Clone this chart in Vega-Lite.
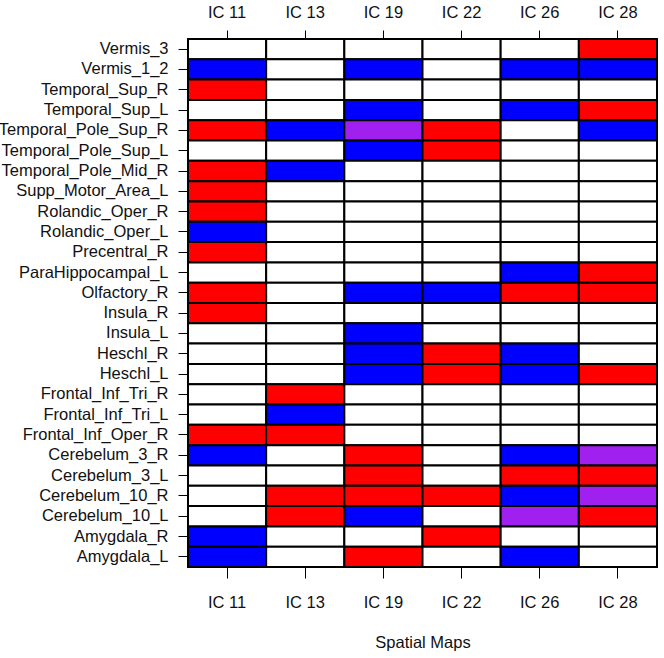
{
  "$schema": "https://vega.github.io/schema/vega-lite/v6.json",
  "autosize": {"type": "none"},
  "padding": {"left": 188, "top": 39, "right": 7, "bottom": 91},
  "width": 469,
  "height": 528,
  "background": "white",
  "config": {
    "view": {"stroke": null},
    "font": "Liberation Sans",
    "axis": {"labelFont": "Liberation Sans", "titleFont": "Liberation Sans", "labelColor": "#111111", "titleColor": "#111111", "tickColor": "#000000", "domain": false, "grid": false, "labelFontSize": 16.5, "titleFontSize": 16.5, "titleFontWeight": "normal"}
  },
  "data": {"values": [
    {"region":"Vermis_3","ic":"IC 11","v":"none"},{"region":"Vermis_3","ic":"IC 13","v":"none"},{"region":"Vermis_3","ic":"IC 19","v":"none"},{"region":"Vermis_3","ic":"IC 22","v":"none"},{"region":"Vermis_3","ic":"IC 26","v":"none"},{"region":"Vermis_3","ic":"IC 28","v":"pos"},
    {"region":"Vermis_1_2","ic":"IC 11","v":"neg"},{"region":"Vermis_1_2","ic":"IC 13","v":"none"},{"region":"Vermis_1_2","ic":"IC 19","v":"neg"},{"region":"Vermis_1_2","ic":"IC 22","v":"none"},{"region":"Vermis_1_2","ic":"IC 26","v":"neg"},{"region":"Vermis_1_2","ic":"IC 28","v":"neg"},
    {"region":"Temporal_Sup_R","ic":"IC 11","v":"pos"},{"region":"Temporal_Sup_R","ic":"IC 13","v":"none"},{"region":"Temporal_Sup_R","ic":"IC 19","v":"none"},{"region":"Temporal_Sup_R","ic":"IC 22","v":"none"},{"region":"Temporal_Sup_R","ic":"IC 26","v":"none"},{"region":"Temporal_Sup_R","ic":"IC 28","v":"none"},
    {"region":"Temporal_Sup_L","ic":"IC 11","v":"none"},{"region":"Temporal_Sup_L","ic":"IC 13","v":"none"},{"region":"Temporal_Sup_L","ic":"IC 19","v":"neg"},{"region":"Temporal_Sup_L","ic":"IC 22","v":"none"},{"region":"Temporal_Sup_L","ic":"IC 26","v":"neg"},{"region":"Temporal_Sup_L","ic":"IC 28","v":"pos"},
    {"region":"Temporal_Pole_Sup_R","ic":"IC 11","v":"pos"},{"region":"Temporal_Pole_Sup_R","ic":"IC 13","v":"neg"},{"region":"Temporal_Pole_Sup_R","ic":"IC 19","v":"both"},{"region":"Temporal_Pole_Sup_R","ic":"IC 22","v":"pos"},{"region":"Temporal_Pole_Sup_R","ic":"IC 26","v":"none"},{"region":"Temporal_Pole_Sup_R","ic":"IC 28","v":"neg"},
    {"region":"Temporal_Pole_Sup_L","ic":"IC 11","v":"none"},{"region":"Temporal_Pole_Sup_L","ic":"IC 13","v":"none"},{"region":"Temporal_Pole_Sup_L","ic":"IC 19","v":"neg"},{"region":"Temporal_Pole_Sup_L","ic":"IC 22","v":"pos"},{"region":"Temporal_Pole_Sup_L","ic":"IC 26","v":"none"},{"region":"Temporal_Pole_Sup_L","ic":"IC 28","v":"none"},
    {"region":"Temporal_Pole_Mid_R","ic":"IC 11","v":"pos"},{"region":"Temporal_Pole_Mid_R","ic":"IC 13","v":"neg"},{"region":"Temporal_Pole_Mid_R","ic":"IC 19","v":"none"},{"region":"Temporal_Pole_Mid_R","ic":"IC 22","v":"none"},{"region":"Temporal_Pole_Mid_R","ic":"IC 26","v":"none"},{"region":"Temporal_Pole_Mid_R","ic":"IC 28","v":"none"},
    {"region":"Supp_Motor_Area_L","ic":"IC 11","v":"pos"},{"region":"Supp_Motor_Area_L","ic":"IC 13","v":"none"},{"region":"Supp_Motor_Area_L","ic":"IC 19","v":"none"},{"region":"Supp_Motor_Area_L","ic":"IC 22","v":"none"},{"region":"Supp_Motor_Area_L","ic":"IC 26","v":"none"},{"region":"Supp_Motor_Area_L","ic":"IC 28","v":"none"},
    {"region":"Rolandic_Oper_R","ic":"IC 11","v":"pos"},{"region":"Rolandic_Oper_R","ic":"IC 13","v":"none"},{"region":"Rolandic_Oper_R","ic":"IC 19","v":"none"},{"region":"Rolandic_Oper_R","ic":"IC 22","v":"none"},{"region":"Rolandic_Oper_R","ic":"IC 26","v":"none"},{"region":"Rolandic_Oper_R","ic":"IC 28","v":"none"},
    {"region":"Rolandic_Oper_L","ic":"IC 11","v":"neg"},{"region":"Rolandic_Oper_L","ic":"IC 13","v":"none"},{"region":"Rolandic_Oper_L","ic":"IC 19","v":"none"},{"region":"Rolandic_Oper_L","ic":"IC 22","v":"none"},{"region":"Rolandic_Oper_L","ic":"IC 26","v":"none"},{"region":"Rolandic_Oper_L","ic":"IC 28","v":"none"},
    {"region":"Precentral_R","ic":"IC 11","v":"pos"},{"region":"Precentral_R","ic":"IC 13","v":"none"},{"region":"Precentral_R","ic":"IC 19","v":"none"},{"region":"Precentral_R","ic":"IC 22","v":"none"},{"region":"Precentral_R","ic":"IC 26","v":"none"},{"region":"Precentral_R","ic":"IC 28","v":"none"},
    {"region":"ParaHippocampal_L","ic":"IC 11","v":"none"},{"region":"ParaHippocampal_L","ic":"IC 13","v":"none"},{"region":"ParaHippocampal_L","ic":"IC 19","v":"none"},{"region":"ParaHippocampal_L","ic":"IC 22","v":"none"},{"region":"ParaHippocampal_L","ic":"IC 26","v":"neg"},{"region":"ParaHippocampal_L","ic":"IC 28","v":"pos"},
    {"region":"Olfactory_R","ic":"IC 11","v":"pos"},{"region":"Olfactory_R","ic":"IC 13","v":"none"},{"region":"Olfactory_R","ic":"IC 19","v":"neg"},{"region":"Olfactory_R","ic":"IC 22","v":"neg"},{"region":"Olfactory_R","ic":"IC 26","v":"pos"},{"region":"Olfactory_R","ic":"IC 28","v":"pos"},
    {"region":"Insula_R","ic":"IC 11","v":"pos"},{"region":"Insula_R","ic":"IC 13","v":"none"},{"region":"Insula_R","ic":"IC 19","v":"none"},{"region":"Insula_R","ic":"IC 22","v":"none"},{"region":"Insula_R","ic":"IC 26","v":"none"},{"region":"Insula_R","ic":"IC 28","v":"none"},
    {"region":"Insula_L","ic":"IC 11","v":"none"},{"region":"Insula_L","ic":"IC 13","v":"none"},{"region":"Insula_L","ic":"IC 19","v":"neg"},{"region":"Insula_L","ic":"IC 22","v":"none"},{"region":"Insula_L","ic":"IC 26","v":"none"},{"region":"Insula_L","ic":"IC 28","v":"none"},
    {"region":"Heschl_R","ic":"IC 11","v":"none"},{"region":"Heschl_R","ic":"IC 13","v":"none"},{"region":"Heschl_R","ic":"IC 19","v":"neg"},{"region":"Heschl_R","ic":"IC 22","v":"pos"},{"region":"Heschl_R","ic":"IC 26","v":"neg"},{"region":"Heschl_R","ic":"IC 28","v":"none"},
    {"region":"Heschl_L","ic":"IC 11","v":"none"},{"region":"Heschl_L","ic":"IC 13","v":"none"},{"region":"Heschl_L","ic":"IC 19","v":"neg"},{"region":"Heschl_L","ic":"IC 22","v":"pos"},{"region":"Heschl_L","ic":"IC 26","v":"neg"},{"region":"Heschl_L","ic":"IC 28","v":"pos"},
    {"region":"Frontal_Inf_Tri_R","ic":"IC 11","v":"none"},{"region":"Frontal_Inf_Tri_R","ic":"IC 13","v":"pos"},{"region":"Frontal_Inf_Tri_R","ic":"IC 19","v":"none"},{"region":"Frontal_Inf_Tri_R","ic":"IC 22","v":"none"},{"region":"Frontal_Inf_Tri_R","ic":"IC 26","v":"none"},{"region":"Frontal_Inf_Tri_R","ic":"IC 28","v":"none"},
    {"region":"Frontal_Inf_Tri_L","ic":"IC 11","v":"none"},{"region":"Frontal_Inf_Tri_L","ic":"IC 13","v":"neg"},{"region":"Frontal_Inf_Tri_L","ic":"IC 19","v":"none"},{"region":"Frontal_Inf_Tri_L","ic":"IC 22","v":"none"},{"region":"Frontal_Inf_Tri_L","ic":"IC 26","v":"none"},{"region":"Frontal_Inf_Tri_L","ic":"IC 28","v":"none"},
    {"region":"Frontal_Inf_Oper_R","ic":"IC 11","v":"pos"},{"region":"Frontal_Inf_Oper_R","ic":"IC 13","v":"pos"},{"region":"Frontal_Inf_Oper_R","ic":"IC 19","v":"none"},{"region":"Frontal_Inf_Oper_R","ic":"IC 22","v":"none"},{"region":"Frontal_Inf_Oper_R","ic":"IC 26","v":"none"},{"region":"Frontal_Inf_Oper_R","ic":"IC 28","v":"none"},
    {"region":"Cerebelum_3_R","ic":"IC 11","v":"neg"},{"region":"Cerebelum_3_R","ic":"IC 13","v":"none"},{"region":"Cerebelum_3_R","ic":"IC 19","v":"pos"},{"region":"Cerebelum_3_R","ic":"IC 22","v":"none"},{"region":"Cerebelum_3_R","ic":"IC 26","v":"neg"},{"region":"Cerebelum_3_R","ic":"IC 28","v":"both"},
    {"region":"Cerebelum_3_L","ic":"IC 11","v":"none"},{"region":"Cerebelum_3_L","ic":"IC 13","v":"none"},{"region":"Cerebelum_3_L","ic":"IC 19","v":"pos"},{"region":"Cerebelum_3_L","ic":"IC 22","v":"none"},{"region":"Cerebelum_3_L","ic":"IC 26","v":"pos"},{"region":"Cerebelum_3_L","ic":"IC 28","v":"pos"},
    {"region":"Cerebelum_10_R","ic":"IC 11","v":"none"},{"region":"Cerebelum_10_R","ic":"IC 13","v":"pos"},{"region":"Cerebelum_10_R","ic":"IC 19","v":"pos"},{"region":"Cerebelum_10_R","ic":"IC 22","v":"pos"},{"region":"Cerebelum_10_R","ic":"IC 26","v":"neg"},{"region":"Cerebelum_10_R","ic":"IC 28","v":"both"},
    {"region":"Cerebelum_10_L","ic":"IC 11","v":"none"},{"region":"Cerebelum_10_L","ic":"IC 13","v":"pos"},{"region":"Cerebelum_10_L","ic":"IC 19","v":"neg"},{"region":"Cerebelum_10_L","ic":"IC 22","v":"none"},{"region":"Cerebelum_10_L","ic":"IC 26","v":"both"},{"region":"Cerebelum_10_L","ic":"IC 28","v":"pos"},
    {"region":"Amygdala_R","ic":"IC 11","v":"neg"},{"region":"Amygdala_R","ic":"IC 13","v":"none"},{"region":"Amygdala_R","ic":"IC 19","v":"none"},{"region":"Amygdala_R","ic":"IC 22","v":"pos"},{"region":"Amygdala_R","ic":"IC 26","v":"none"},{"region":"Amygdala_R","ic":"IC 28","v":"none"},
    {"region":"Amygdala_L","ic":"IC 11","v":"neg"},{"region":"Amygdala_L","ic":"IC 13","v":"none"},{"region":"Amygdala_L","ic":"IC 19","v":"pos"},{"region":"Amygdala_L","ic":"IC 22","v":"none"},{"region":"Amygdala_L","ic":"IC 26","v":"neg"},{"region":"Amygdala_L","ic":"IC 28","v":"none"}
  ]},
  "encoding": {
    "y": {"field": "region", "type": "nominal", "sort": ["Vermis_3","Vermis_1_2","Temporal_Sup_R","Temporal_Sup_L","Temporal_Pole_Sup_R","Temporal_Pole_Sup_L","Temporal_Pole_Mid_R","Supp_Motor_Area_L","Rolandic_Oper_R","Rolandic_Oper_L","Precentral_R","ParaHippocampal_L","Olfactory_R","Insula_R","Insula_L","Heschl_R","Heschl_L","Frontal_Inf_Tri_R","Frontal_Inf_Tri_L","Frontal_Inf_Oper_R","Cerebelum_3_R","Cerebelum_3_L","Cerebelum_10_R","Cerebelum_10_L","Amygdala_R","Amygdala_L"], "scale": {"paddingInner": 0, "paddingOuter": 0}, "axis": {"title": null, "tickSize": 10, "labelPadding": 10}},
    "color": {"field": "v", "type": "nominal", "scale": {"domain": ["none","pos","neg","both"], "range": ["#FFFFFF","#FF0000","#0000FF","#A020F0"]}, "legend": null}
  },
  "layer": [
    {
      "mark": {"type": "rect", "stroke": "#000000", "strokeWidth": 2},
      "encoding": {
        "x": {"field": "ic", "type": "nominal", "sort": ["IC 11","IC 13","IC 19","IC 22","IC 26","IC 28"], "scale": {"paddingInner": 0, "paddingOuter": 0}, "axis": {"orient": "bottom", "title": "Spatial Maps", "labelAngle": 0, "tickSize": 11, "labelPadding": 16, "titlePadding": 24}}
      }
    },
    {
      "mark": {"type": "rect", "stroke": "#000000", "strokeWidth": 2},
      "encoding": {
        "x": {"field": "ic", "type": "nominal", "sort": ["IC 11","IC 13","IC 19","IC 22","IC 26","IC 28"], "scale": {"paddingInner": 0, "paddingOuter": 0}, "axis": {"orient": "top", "title": null, "labelAngle": 0, "tickSize": 9, "labelPadding": 10}}
      }
    }
  ],
  "resolve": {"axis": {"x": "independent"}}
}
